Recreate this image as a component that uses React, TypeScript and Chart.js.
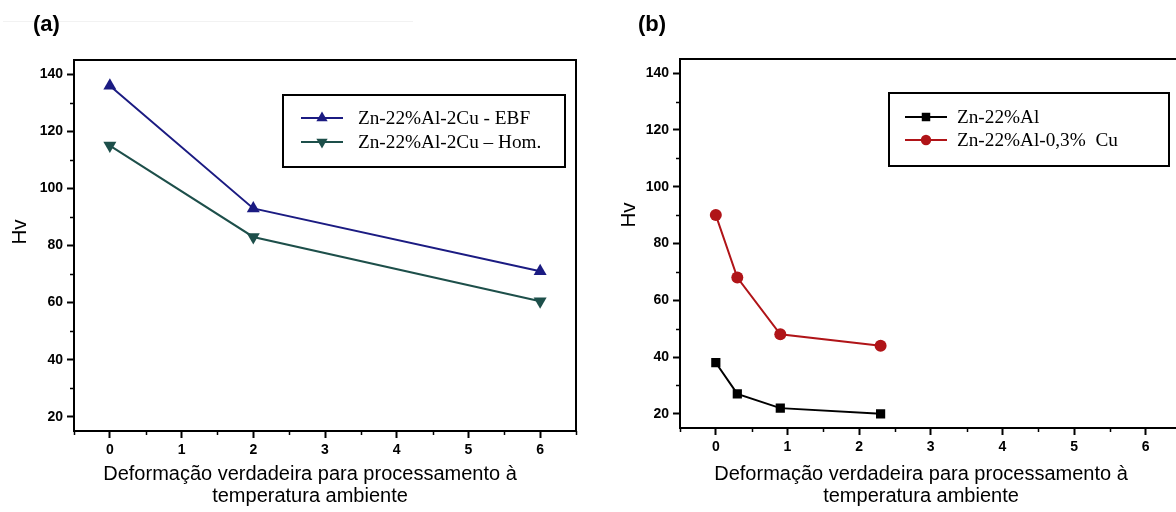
import React, { useEffect, useRef } from "react";
import { Chart, registerables } from "chart.js";

Chart.register(...registerables);

// ---- data ----
const xTickValues = [0, 1, 2, 3, 4, 5, 6];
const yTickValues = [20, 40, 60, 80, 100, 120, 140];
const xMinorValues = [-0.5, 0.5, 1.5, 2.5, 3.5, 4.5, 5.5, 6.5];
const yMinorValues = [30, 50, 70, 90, 110, 130];

const deformA = [0, 2, 6];
const hvEBF = [136, 93, 71];
const hvHom = [115, 83, 60.5];

const deformB = [0, 0.3, 0.9, 2.3];
const hvZnAl = [38, 27, 22, 20];
const hvZnAlCu = [90, 68, 48, 44];

const labelsA = ["Zn-22%Al-2Cu - EBF", "Zn-22%Al-2Cu \u2013 Hom."];
const labelsB = ["Zn-22%Al", "Zn-22%Al-0,3%  Cu"];
const xTitleLines = ["Deformação verdadeira para processamento à", "temperatura ambiente"];
const yTitle = "Hv";
const panelLabels = ["(a)", "(b)"];

const SANS = "'Liberation Sans', Arial, sans-serif";
const SERIF = "'Liberation Serif', 'Times New Roman', serif";

type Layout = {
  width: number;
  padTop: number;
  plotLeft: number;
  plotRight: number;
  plotBottom: number;
  panelLabel: string;
  panelLabelX: number;
  legendBox: { x: number; y: number; w: number; h: number };
  legendRows: number[];
  legendLineX: [number, number];
  legendTextX: number;
  yTitlePos: [number, number];
  xTitleX: number;
};

function drawMarker(ctx: CanvasRenderingContext2D, style: string, rot: number, x: number, y: number, r: number, color: string) {
  ctx.save();
  ctx.fillStyle = color;
  ctx.beginPath();
  if (style === "triangle") {
    const dir = rot === 180 ? -1 : 1;
    ctx.moveTo(x, y - dir * r);
    ctx.lineTo(x + r * 0.866, y + dir * r * 0.5);
    ctx.lineTo(x - r * 0.866, y + dir * r * 0.5);
    ctx.closePath();
  } else if (style === "rect") {
    ctx.rect(x - r * 0.707, y - r * 0.707, r * 1.414, r * 1.414);
  } else {
    ctx.arc(x, y, r, 0, Math.PI * 2);
  }
  ctx.fill();
  ctx.restore();
}

function makePlugin(L: Layout) {
  return {
    id: "decor",
    afterDraw(chart: any) {
      const ctx: CanvasRenderingContext2D = chart.ctx;
      const { left, right, top, bottom } = chart.chartArea;
      const xs = chart.scales.x;
      const ys = chart.scales.y;
      ctx.save();
      // frame top & right
      ctx.strokeStyle = "#000";
      ctx.lineWidth = 2;
      ctx.beginPath();
      ctx.moveTo(left - 1, top);
      ctx.lineTo(right, top);
      ctx.lineTo(right, bottom);
      ctx.stroke();
      // minor ticks
      ctx.lineWidth = 1.5;
      ctx.beginPath();
      for (const v of xMinorValues) {
        const px = Math.round(xs.getPixelForValue(v)) + 0.5;
        ctx.moveTo(px, bottom);
        ctx.lineTo(px, bottom + 4);
      }
      for (const v of yMinorValues) {
        const py = Math.round(ys.getPixelForValue(v)) + 0.5;
        ctx.moveTo(left, py);
        ctx.lineTo(left - 4, py);
      }
      ctx.stroke();

      // legend
      const b = L.legendBox;
      ctx.lineWidth = 2;
      ctx.strokeStyle = "#000";
      ctx.strokeRect(b.x, b.y, b.w, b.h);
      chart.data.datasets.forEach((ds: any, i: number) => {
        const y = L.legendRows[i];
        ctx.strokeStyle = ds.borderColor;
        ctx.lineWidth = 2;
        ctx.beginPath();
        ctx.moveTo(L.legendLineX[0], y);
        ctx.lineTo(L.legendLineX[1], y);
        ctx.stroke();
        const mx = (L.legendLineX[0] + L.legendLineX[1]) / 2;
        const r = ds.pointStyle === "triangle" ? 6.5 : ds.pointStyle === "rect" ? 6 : 5.2;
        drawMarker(ctx, ds.pointStyle, ds.pointRotation || 0, mx, y, r, ds.borderColor);
        ctx.fillStyle = "#000";
        ctx.font = `18.5px ${SERIF}`;
        ctx.textAlign = "left";
        ctx.textBaseline = "middle";
        ctx.save();
        ctx.translate(L.legendTextX, y + 1);
        ctx.scale(1.04, 1);
        ctx.fillText(ds.label, 0, 0);
        ctx.restore();
      });

      // y title
      ctx.save();
      ctx.translate(L.yTitlePos[0], L.yTitlePos[1]);
      ctx.rotate(-Math.PI / 2);
      ctx.fillStyle = "#000";
      ctx.font = `20.5px ${SANS}`;
      ctx.textAlign = "center";
      ctx.textBaseline = "middle";
      ctx.fillText(yTitle, 0, 0);
      ctx.restore();

      // x title
      ctx.fillStyle = "#000";
      ctx.font = `20px ${SANS}`;
      ctx.textAlign = "center";
      ctx.textBaseline = "alphabetic";
      ctx.fillText(xTitleLines[0], L.xTitleX, 480);
      ctx.fillText(xTitleLines[1], L.xTitleX, 502);

      // panel label
      ctx.font = `bold 22px ${SANS}`;
      ctx.textAlign = "left";
      ctx.textBaseline = "middle";
      ctx.fillText(L.panelLabel, L.panelLabelX, 25);
      ctx.restore();
    },
  };
}

function makeConfig(L: Layout, datasets: any[]) {
  const axisCommon = {
    type: "linear",
    grid: {
      display: true,
      drawOnChartArea: false,
      drawTicks: true,
      tickLength: 7,
      tickWidth: 2,
      tickColor: "#000",
      color: "#000",
    },
    border: { display: true, color: "#000", width: 2 },
  };
  const tickFont = { family: SANS, size: 14, weight: "bold" };
  return {
    type: "line",
    data: { datasets },
    plugins: [makePlugin(L)],
    options: {
      responsive: false,
      animation: false,
      devicePixelRatio: 1,
      layout: { padding: { top: L.padTop, left: 0, right: L.width - L.plotRight, bottom: 0 } },
      plugins: { legend: { display: false }, title: { display: false }, tooltip: { enabled: false } },
      scales: {
        x: {
          ...axisCommon,
          min: -0.5,
          max: 6.5,
          afterBuildTicks: (s: any) => {
            s.ticks = xTickValues.map((v) => ({ value: v }));
          },
          afterFit: (s: any) => {
            s.height = 512 - L.plotBottom;
          },
          ticks: { padding: 4, color: "#000", font: tickFont, autoSkip: false, maxRotation: 0 },
        },
        y: {
          ...axisCommon,
          min: 15,
          max: 145,
          afterBuildTicks: (s: any) => {
            s.ticks = yTickValues.map((v) => ({ value: v }));
          },
          afterFit: (s: any) => {
            s.width = L.plotLeft;
          },
          ticks: { padding: 4, color: "#000", font: tickFont },
        },
      },
    },
  };
}

const layoutA: Layout = {
  width: 588,
  padTop: 60,
  plotLeft: 74,
  plotRight: 576,
  plotBottom: 431,
  panelLabel: panelLabels[0],
  panelLabelX: 33,
  legendBox: { x: 283, y: 95, w: 282, h: 72 },
  legendRows: [118, 142],
  legendLineX: [301, 343],
  legendTextX: 358,
  yTitlePos: [20, 232],
  xTitleX: 310,
};

const layoutB: Layout = {
  width: 600,
  padTop: 59,
  plotLeft: 92,
  plotRight: 594,
  plotBottom: 428,
  panelLabel: panelLabels[1],
  panelLabelX: 50,
  legendBox: { x: 301, y: 93, w: 280, h: 73 },
  legendRows: [117, 140],
  legendLineX: [317, 359],
  legendTextX: 369,
  yTitlePos: [41, 215],
  xTitleX: 333,
};

function toPoints(xs: number[], ys: number[]) {
  return xs.map((x, i) => ({ x, y: ys[i] }));
}

function ChartCanvas({ layout, datasets, left }: { layout: Layout; datasets: any[]; left: number }) {
  const ref = useRef<HTMLCanvasElement>(null);
  useEffect(() => {
    if (!ref.current) return;
    const chart = new Chart(ref.current, makeConfig(layout, datasets) as any);
    return () => chart.destroy();
  }, []);
  return (
    <canvas
      ref={ref}
      width={layout.width}
      height={512}
      style={{ position: "absolute", left, top: 0, width: layout.width, height: 512 }}
    />
  );
}

export default function App() {
  const navy = "#1b1b82";
  const teal = "#1d4f4a";
  const red = "#b01418";
  const black = "#000000";
  const datasetsA = [
    {
      label: labelsA[0],
      data: toPoints(deformA, hvEBF),
      borderColor: navy,
      backgroundColor: navy,
      borderWidth: 2,
      pointStyle: "triangle",
      pointRadius: 7.5,
      pointBorderWidth: 0,
      tension: 0,
    },
    {
      label: labelsA[1],
      data: toPoints(deformA, hvHom),
      borderColor: teal,
      backgroundColor: teal,
      borderWidth: 2,
      pointStyle: "triangle",
      pointRotation: 180,
      pointRadius: 7.5,
      pointBorderWidth: 0,
      tension: 0,
    },
  ];
  const datasetsB = [
    {
      label: labelsB[0],
      data: toPoints(deformB, hvZnAl),
      borderColor: black,
      backgroundColor: black,
      borderWidth: 2,
      pointStyle: "rect",
      pointRadius: 6.5,
      pointBorderWidth: 0,
      tension: 0,
    },
    {
      label: labelsB[1],
      data: toPoints(deformB, hvZnAlCu),
      borderColor: red,
      backgroundColor: red,
      borderWidth: 2,
      pointStyle: "circle",
      pointRadius: 6,
      pointBorderWidth: 0,
      tension: 0,
    },
  ];
  return (
    <div
      style={{
        position: "fixed",
        left: 0,
        top: 0,
        width: 1176,
        height: 512,
        overflow: "hidden",
        background: "#fff",
      }}
    >
      <div style={{ position: "absolute", left: 3, top: 21, width: 410, height: 1, background: "#f2f2f2" }} />
      <ChartCanvas layout={layoutA} datasets={datasetsA} left={0} />
      <ChartCanvas layout={layoutB} datasets={datasetsB} left={588} />
    </div>
  );
}
